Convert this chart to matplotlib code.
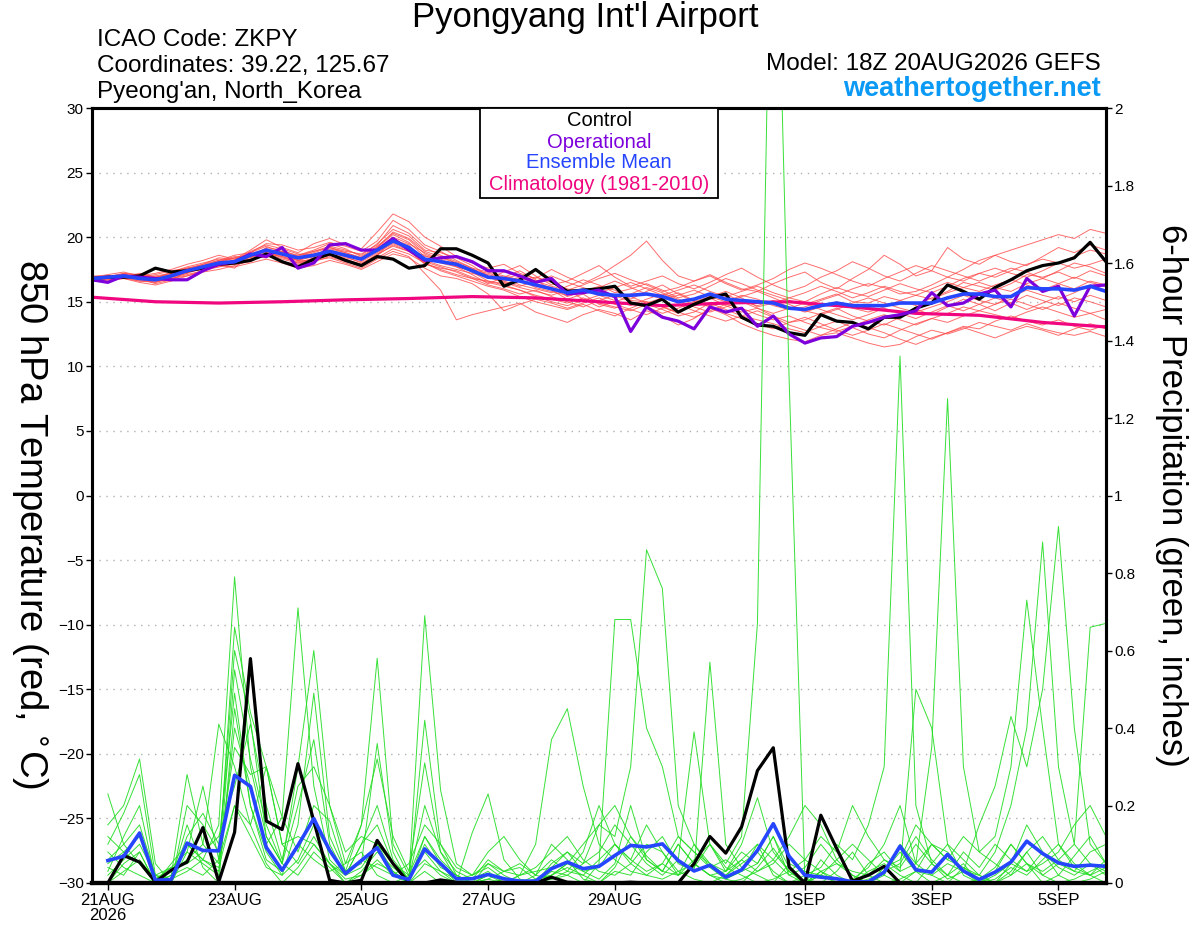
"""
GEFS Meteogramm: 850 hPa Temperatur und 6h-Niederschlag, Pyongyang
"""

import matplotlib
matplotlib.use('Agg')
import matplotlib.pyplot as plt
import numpy as np
import pandas as pd
from matplotlib.patches import Rectangle

plt.rcParams['font.family'] = ['Liberation Sans', 'DejaVu Sans']

# Zeitachse: 6-stündig ab 18Z 20AUG2026 bis +384h
times = pd.date_range('2026-08-20 18:00', periods=65, freq='6h')
precip_times = times[1:]

tick_dates = ['2026-08-21', '2026-08-23', '2026-08-25', '2026-08-27',
              '2026-08-29', '2026-09-01', '2026-09-03', '2026-09-05']
tick_labels = ['21AUG\n2026', '23AUG', '25AUG', '27AUG', '29AUG', '1SEP', '3SEP', '5SEP']

# 850 hPa Temperatur (°C)
control_t = [16.8, 16.9, 16.9, 17.0, 17.6, 17.3, 17.4, 17.6, 17.9, 18.0, 18.2, 18.7, 18.1,
             17.7, 18.3, 18.7, 18.2, 17.8, 18.5, 18.3, 17.6, 17.8, 19.1, 19.1, 18.6, 18.0,
             16.2, 16.7, 17.5, 16.6, 15.8, 15.9, 16.0, 16.2, 14.9, 14.7, 15.2, 14.2, 14.8,
             15.3, 15.6, 13.8, 13.2, 13.1, 12.6, 12.4, 14.0, 13.5, 13.4, 12.9, 13.8, 13.8,
             14.5, 14.9, 16.3, 15.8, 15.2, 16.1, 16.7, 17.4, 17.8, 18.0, 18.4, 19.6, 18.1]
operational_t = [16.7, 16.5, 17.0, 16.9, 16.8, 16.7, 16.7, 17.4, 17.9, 18.1, 18.7, 18.5, 19.2,
                 17.6, 18.0, 19.4, 19.5, 19.0, 19.0, 19.9, 19.0, 18.2, 18.4, 18.5, 18.1, 17.4,
                 17.4, 17.0, 16.5, 16.8, 15.6, 15.7, 15.9, 15.4, 12.7, 14.6, 13.8, 13.5, 12.9,
                 14.6, 14.2, 14.5, 13.1, 13.9, 12.5, 11.8, 12.2, 12.3, 13.1, 13.4, 13.8, 14.0,
                 14.3, 15.7, 14.7, 14.9, 15.6, 15.9, 14.6, 16.8, 15.8, 16.2, 13.9, 16.2, 16.3]
ens_mean_t = [16.8, 16.9, 17.0, 16.8, 16.7, 17.0, 17.4, 17.7, 18.0, 18.1, 18.6, 19.0, 18.7,
              18.4, 18.6, 18.9, 18.6, 18.3, 19.0, 19.7, 19.2, 18.3, 18.1, 17.9, 17.4, 16.9,
              16.8, 16.6, 16.3, 16.0, 15.7, 15.9, 15.6, 15.5, 15.5, 15.6, 15.4, 15.0, 15.2,
              15.6, 15.2, 15.1, 15.0, 14.9, 14.5, 14.4, 14.7, 14.9, 14.7, 14.7, 14.7, 14.9,
              14.9, 14.9, 15.3, 15.6, 15.6, 15.4, 15.4, 16.1, 16.0, 16.0, 15.9, 16.2, 15.8]

# Klimatologie (1981-2010), täglich um 18Z
clim_times = times[::4]
clim_t = [15.35, 15.0, 14.9, 15.0, 15.15, 15.25, 15.4, 15.3, 15.0, 14.7, 14.9, 15.0,
          14.6, 14.1, 13.95, 13.4, 13.05]

member_t = [
    [16.9, 17.1, 17.3, 17.0, 17.2, 17.5, 17.9, 18.2, 18.6, 18.3, 19.0, 19.8, 19.2, 18.8, 19.5, 19.9,
     19.4, 19.1, 20.4, 21.8, 21.2, 20.0, 19.3, 18.5, 18.0, 17.6, 17.9, 17.2, 16.8, 17.5, 16.9, 16.4,
     17.0, 17.8, 18.6, 19.7, 18.2, 17.0, 16.6, 17.1, 16.5, 16.0, 15.8, 16.4, 16.9, 17.3, 16.5, 16.0,
     16.8, 17.5, 18.6, 17.9, 17.0, 17.4, 19.2, 18.3, 17.9, 18.6, 19.0, 19.4, 19.8, 20.2, 19.9, 20.6, 20.3],
    [16.7, 16.6, 16.8, 16.5, 16.3, 16.6, 17.0, 17.3, 17.5, 17.8, 18.2, 18.6, 18.1, 17.9, 18.2, 18.4,
     18.0, 17.6, 18.3, 18.9, 18.5, 17.2, 15.9, 13.6, 14.0, 14.3, 14.6, 14.9, 14.2, 13.8, 13.4, 14.0,
     14.4, 14.1, 13.6, 14.3, 13.9, 13.2, 13.7, 14.5, 14.0, 13.3, 12.8, 12.4, 12.1, 11.9, 12.4, 12.6,
     12.2, 11.8, 11.5, 11.7, 12.3, 12.8, 12.5, 12.9, 13.4, 13.1, 12.8, 13.3, 12.9, 12.6, 12.4, 12.7, 12.3],
    [16.8, 17.0, 16.9, 17.2, 16.9, 17.1, 17.6, 17.5, 18.1, 18.5, 18.4, 19.2, 19.0, 18.5, 18.9, 19.3,
     19.0, 18.6, 19.5, 20.6, 20.1, 19.0, 18.8, 18.4, 17.8, 17.0, 16.6, 16.9, 16.4, 16.1, 15.4, 15.8,
     16.2, 15.9, 15.2, 15.8, 16.3, 15.6, 15.0, 15.4, 15.8, 15.3, 14.6, 14.9, 15.3, 15.0, 15.6, 16.1,
     15.7, 15.4, 15.9, 16.4, 16.0, 15.7, 16.2, 16.8, 17.2, 16.9, 17.4, 17.9, 18.3, 18.0, 18.5, 19.0, 18.7],
    [16.9, 16.8, 17.1, 16.7, 16.5, 16.9, 17.2, 17.8, 17.9, 17.6, 18.7, 18.9, 18.4, 18.1, 18.3, 18.6,
     18.2, 17.9, 18.7, 19.3, 18.9, 18.6, 18.0, 17.7, 17.1, 16.4, 16.9, 17.4, 16.7, 15.9, 15.2, 15.6,
     14.8, 14.5, 15.1, 15.0, 14.6, 14.1, 14.9, 15.3, 14.7, 14.2, 14.5, 13.9, 13.4, 13.6, 14.1, 14.5,
     13.9, 13.5, 13.2, 13.8, 14.4, 14.0, 14.6, 15.2, 14.8, 14.3, 14.9, 15.5, 15.1, 14.7, 15.3, 15.0, 14.6],
    [16.6, 16.9, 17.2, 17.1, 16.8, 17.3, 17.7, 18.0, 18.3, 18.2, 18.9, 19.4, 19.1, 18.7, 18.6, 19.1,
     18.8, 18.4, 19.2, 20.2, 19.6, 18.5, 18.4, 18.0, 17.5, 17.2, 16.9, 16.3, 16.0, 15.7, 16.2, 16.7,
     16.3, 15.7, 16.0, 16.4, 15.9, 15.3, 15.6, 16.2, 16.8, 16.4, 15.9, 15.5, 15.1, 14.8, 15.2, 15.6,
     15.0, 14.9, 15.4, 15.1, 14.7, 15.3, 15.8, 16.5, 16.2, 15.9, 16.4, 17.1, 16.9, 17.3, 16.8, 17.4, 17.0],
    [16.8, 16.7, 16.9, 16.6, 16.6, 16.8, 17.1, 17.4, 17.7, 17.9, 18.1, 18.8, 18.3, 18.0, 18.4, 18.7,
     18.4, 18.1, 18.8, 19.5, 19.0, 17.9, 17.6, 17.4, 16.9, 16.5, 16.2, 15.9, 15.5, 15.2, 14.9, 15.3,
     14.9, 14.6, 14.3, 14.8, 14.4, 13.9, 14.2, 14.9, 14.4, 13.9, 13.6, 13.3, 12.9, 12.6, 13.1, 13.5,
     13.0, 12.5, 12.2, 12.8, 13.3, 13.7, 13.4, 13.9, 14.3, 14.0, 13.7, 14.2, 14.6, 14.2, 13.8, 14.1, 13.6],
    [17.0, 17.0, 17.1, 16.9, 17.0, 17.2, 17.5, 17.9, 18.2, 18.6, 18.8, 19.5, 19.4, 19.0, 19.2, 19.6,
     19.3, 18.9, 19.7, 21.3, 20.6, 19.4, 18.9, 18.2, 17.6, 16.8, 17.3, 17.8, 17.0, 16.3, 16.6, 17.2,
     17.8, 16.9, 16.2, 16.6, 17.0, 16.4, 16.0, 16.5, 17.1, 17.6, 16.9, 16.3, 15.8, 16.2, 16.9, 17.4,
     18.1, 17.6, 17.0, 16.6, 17.2, 17.8, 17.4, 17.0, 16.6, 17.1, 17.6, 17.3, 16.8, 17.4, 18.0, 17.7, 17.2],
    [16.7, 16.8, 17.0, 16.8, 16.4, 16.7, 17.3, 17.6, 18.0, 18.4, 18.5, 18.4, 18.9, 18.3, 18.5, 18.8,
     18.5, 18.0, 18.6, 19.8, 19.4, 18.2, 17.8, 17.5, 17.2, 16.9, 16.5, 16.1, 15.8, 15.5, 15.9, 15.2,
     14.6, 15.0, 15.4, 14.9, 15.3, 15.7, 15.1, 14.7, 14.9, 15.4, 15.8, 15.3, 14.8, 14.3, 14.0, 14.4,
     14.9, 15.3, 14.9, 14.5, 14.2, 14.6, 15.0, 15.5, 15.1, 14.8, 15.4, 15.9, 15.5, 15.2, 15.7, 16.3, 15.9],
    [16.8, 17.0, 16.8, 16.9, 17.1, 17.4, 17.6, 17.9, 18.4, 18.3, 18.6, 19.1, 18.6, 18.6, 18.9, 19.2,
     18.9, 18.7, 19.4, 20.9, 20.3, 19.2, 18.6, 18.1, 17.6, 17.3, 17.0, 16.7, 16.9, 16.5, 16.0, 15.7,
     16.1, 16.6, 16.1, 15.6, 15.2, 15.5, 15.9, 15.4, 15.0, 15.5, 15.2, 14.7, 14.4, 14.6, 15.1, 15.5,
     16.0, 16.4, 16.1, 15.6, 15.8, 16.3, 16.9, 16.6, 17.2, 17.6, 17.2, 16.9, 17.4, 18.0, 17.6, 17.9, 18.3],
    [16.6, 16.7, 16.8, 16.6, 16.5, 16.8, 17.0, 17.4, 17.8, 17.7, 18.0, 18.3, 18.0, 17.6, 17.8, 18.2,
     17.9, 17.5, 18.1, 18.7, 18.4, 17.6, 17.0, 16.8, 16.4, 15.6, 14.3, 14.8, 15.2, 14.9, 14.5, 14.9,
     15.3, 14.8, 14.4, 14.0, 14.5, 14.8, 14.3, 13.9, 13.5, 13.9, 14.3, 13.8, 13.2, 12.8, 12.4, 12.9,
     13.4, 13.0, 12.6, 12.1, 11.7, 12.2, 12.6, 13.1, 12.9, 13.5, 13.9, 13.5, 13.2, 13.6, 13.1, 12.8, 13.2],
    [16.9, 16.9, 17.0, 17.1, 16.9, 17.0, 17.5, 17.7, 18.1, 18.0, 18.8, 19.3, 18.8, 18.2, 18.7, 19.0,
     18.7, 18.2, 19.1, 20.0, 19.5, 18.8, 18.3, 17.8, 17.3, 16.6, 16.4, 16.7, 16.1, 15.8, 15.5, 16.0,
     15.7, 15.3, 15.6, 16.1, 15.7, 15.2, 14.8, 15.2, 15.6, 15.0, 14.7, 15.1, 14.6, 14.2, 14.6, 15.0,
     14.5, 14.2, 14.6, 15.1, 15.5, 15.2, 15.7, 16.1, 16.5, 16.1, 15.8, 16.4, 16.8, 16.4, 16.0, 16.6, 16.3],
    [16.7, 16.8, 17.1, 16.9, 16.7, 16.9, 17.2, 17.6, 17.7, 18.1, 18.3, 18.7, 18.5, 18.2, 18.1, 18.5,
     18.1, 17.8, 18.4, 19.1, 18.7, 18.0, 17.4, 17.0, 16.6, 16.2, 15.9, 15.4, 15.0, 14.7, 14.4, 14.8,
     14.3, 13.9, 14.5, 15.0, 14.6, 14.2, 13.8, 14.3, 14.8, 14.5, 14.0, 13.6, 13.9, 13.4, 13.0, 12.7,
     13.1, 13.6, 14.0, 13.6, 13.2, 13.7, 14.1, 14.6, 14.3, 14.8, 15.2, 14.8, 14.4, 14.9, 14.5, 14.1, 14.4],
    [16.8, 16.9, 17.2, 17.0, 16.8, 17.1, 17.4, 17.8, 18.2, 18.0, 18.5, 19.0, 18.9, 18.6, 19.0, 19.5,
     19.1, 18.5, 19.3, 20.3, 19.8, 18.7, 18.2, 17.7, 17.4, 17.1, 16.8, 17.1, 16.6, 16.2, 15.9, 16.3,
     16.8, 17.2, 16.7, 16.3, 15.8, 16.1, 16.6, 17.0, 16.4, 15.9, 16.3, 16.8, 17.5, 18.0, 17.6, 17.1,
     16.6, 16.2, 16.8, 17.3, 17.8, 17.4, 16.9, 17.5, 18.2, 18.6, 18.1, 17.8, 18.5, 19.2, 18.8, 19.4, 19.0],
    [16.9, 16.8, 16.9, 16.7, 16.6, 16.9, 17.3, 17.5, 17.9, 18.2, 18.4, 18.9, 18.6, 18.2, 18.5, 18.9,
     18.6, 18.3, 18.9, 19.6, 19.1, 18.1, 17.7, 17.3, 16.8, 16.3, 16.0, 15.6, 15.9, 15.4, 15.0, 14.6,
     15.1, 15.5, 15.0, 14.6, 14.1, 14.5, 15.0, 14.6, 14.1, 13.7, 13.3, 12.9, 13.4, 13.8, 13.3, 12.8,
     12.4, 12.8, 13.3, 12.9, 12.5, 12.1, 12.6, 13.0, 12.6, 12.2, 12.7, 13.1, 12.8, 12.4, 12.9, 13.3, 12.9],
    [16.8, 17.0, 17.0, 16.8, 16.9, 17.2, 17.6, 17.8, 18.1, 18.4, 18.7, 19.1, 18.8, 18.4, 18.8, 19.2,
     18.8, 18.4, 19.2, 20.4, 19.9, 18.9, 18.5, 18.0, 17.5, 16.9, 16.6, 16.2, 16.6, 17.0, 16.5, 16.1,
     15.7, 16.1, 16.5, 16.0, 15.5, 15.9, 16.3, 15.8, 15.4, 15.8, 16.2, 15.7, 15.3, 15.7, 16.2, 15.8,
     15.3, 15.7, 16.2, 15.8, 15.5, 16.0, 16.5, 16.1, 15.8, 16.3, 16.7, 16.3, 15.9, 16.4, 16.9, 16.5, 16.2],
    [16.7, 16.9, 16.9, 16.8, 16.7, 17.0, 17.3, 17.6, 18.0, 17.9, 18.5, 18.9, 18.5, 18.0, 18.2, 18.6,
     18.3, 17.9, 18.6, 19.4, 18.9, 18.0, 17.5, 17.1, 16.8, 16.6, 16.3, 15.9, 15.4, 15.0, 14.7, 15.1,
     15.5, 15.1, 14.7, 15.2, 15.6, 15.1, 14.6, 14.2, 14.6, 15.0, 14.5, 14.1, 14.5, 14.9, 14.4, 14.0,
     13.6, 14.0, 14.5, 14.1, 13.7, 14.2, 14.7, 14.3, 14.8, 15.3, 14.9, 14.4, 14.9, 15.4, 15.0, 15.5, 15.1],
]

# 6-stündiger Niederschlag (inches)
control_p = [0.0, 0.071, 0.054, 0.003, 0.033, 0.054, 0.143, 0.003, 0.131, 0.579, 0.16, 0.138,
             0.308, 0.16, 0.007, 0.0, 0.007, 0.11, 0.05, 0.0, 0.0, 0.008, 0.002, 0.0,
             0.0, 0.002, 0.0, 0.0, 0.015, 0.002, 0.0, 0.0, 0.0, 0.002, 0.0, 0.0,
             0.0, 0.05, 0.12, 0.077, 0.145, 0.29, 0.349, 0.041, 0.0, 0.175, 0.089, 0.005,
             0.02, 0.043, 0.0, 0.0, 0.0, 0.0, 0.0, 0.0, 0.0, 0.0, 0.0, 0.0,
             0.0, 0.0, 0.0, 0.0]
ens_mean_p = [0.058, 0.069, 0.129, 0.007, 0.009, 0.103, 0.084, 0.083, 0.278, 0.249, 0.092, 0.033,
              0.097, 0.166, 0.084, 0.024, 0.058, 0.091, 0.02, 0.009, 0.088, 0.05, 0.011, 0.011,
              0.022, 0.011, 0.005, 0.005, 0.037, 0.054, 0.037, 0.043, 0.071, 0.097, 0.093, 0.101,
              0.058, 0.031, 0.046, 0.015, 0.034, 0.084, 0.153, 0.069, 0.02, 0.015, 0.011, 0.003,
              0.003, 0.028, 0.095, 0.034, 0.028, 0.074, 0.031, 0.009, 0.028, 0.054, 0.108, 0.076,
              0.052, 0.043, 0.046, 0.043]

member_p = [
    [0.05, 0.08, 0.12, 0.01, 0.0, 0.10, 0.06, 0.15, 0.79, 0.30, 0.12, 0.05, 0.20, 0.37, 0.10, 0.02,
     0.04, 0.10, 0.03, 0.0, 0.12, 0.05, 0.0, 0.0, 0.02, 0.0, 0.0, 0.0, 0.05, 0.08, 0.03, 0.04,
     0.10, 0.06, 0.15, 0.08, 0.02, 0.04, 0.10, 0.05, 0.12, 0.67, 2.90, 1.30, 0.0, 0.03, 0.01, 0.0,
     0.0, 0.02, 0.10, 0.05, 0.02, 0.0, 0.04, 0.01, 0.0, 0.03, 0.08, 0.02, 0.05, 0.03, 0.02, 0.06],
    [0.23, 0.10, 0.05, 0.0, 0.02, 0.28, 0.10, 0.05, 0.66, 0.44, 0.30, 0.17, 0.71, 0.25, 0.06, 0.02,
     0.10, 0.15, 0.05, 0.01, 0.69, 0.24, 0.05, 0.02, 0.04, 0.01, 0.0, 0.02, 0.10, 0.06, 0.01, 0.0,
     0.04, 0.12, 0.06, 0.03, 0.10, 0.05, 0.02, 0.01, 0.0, 0.04, 0.09, 0.03, 0.0, 0.02, 0.0, 0.0,
     0.01, 0.03, 0.05, 0.12, 0.06, 0.02, 0.0, 0.01, 0.04, 0.10, 0.05, 0.02, 0.0, 0.01, 0.03, 0.05],
    [0.10, 0.18, 0.28, 0.02, 0.0, 0.08, 0.25, 0.06, 0.60, 0.42, 0.12, 0.05, 0.30, 0.60, 0.20, 0.05,
     0.15, 0.58, 0.10, 0.02, 0.08, 0.03, 0.0, 0.13, 0.23, 0.06, 0.01, 0.0, 0.03, 0.02, 0.0, 0.05,
     0.68, 0.68, 0.40, 0.30, 0.12, 0.08, 0.05, 0.02, 0.06, 0.10, 0.02, 0.0, 0.01, 0.0, 0.03, 0.08,
     0.02, 0.0, 0.01, 0.03, 0.0, 0.02, 0.05, 0.0, 0.01, 0.04, 0.02, 0.06, 0.10, 0.04, 0.02, 0.0],
    [0.0, 0.05, 0.08, 0.0, 0.01, 0.12, 0.18, 0.10, 0.49, 0.20, 0.08, 0.02, 0.15, 0.49, 0.12, 0.03,
     0.05, 0.36, 0.08, 0.0, 0.42, 0.10, 0.02, 0.0, 0.05, 0.02, 0.0, 0.01, 0.02, 0.05, 0.10, 0.15,
     0.12, 0.30, 0.86, 0.76, 0.20, 0.10, 0.04, 0.01, 0.03, 0.05, 0.12, 0.04, 0.0, 0.06, 0.02, 0.0,
     0.05, 0.08, 0.03, 0.50, 0.40, 0.10, 0.02, 0.0, 0.03, 0.10, 0.05, 0.0, 0.02, 0.07, 0.12, 0.05],
    [0.03, 0.12, 0.20, 0.01, 0.03, 0.06, 0.10, 0.41, 0.30, 0.15, 0.05, 0.0, 0.04, 0.10, 0.05, 0.01,
     0.02, 0.05, 0.03, 0.0, 0.03, 0.0, 0.0, 0.01, 0.03, 0.0, 0.02, 0.04, 0.08, 0.12, 0.06, 0.03,
     0.02, 0.05, 0.10, 0.08, 0.03, 0.01, 0.0, 0.02, 0.05, 0.08, 0.03, 0.0, 0.02, 0.04, 0.10, 0.06,
     0.15, 0.30, 1.36, 0.20, 0.05, 0.01, 0.03, 0.02, 0.0, 0.05, 0.03, 0.08, 0.02, 0.0, 0.01, 0.03],
    [0.08, 0.04, 0.02, 0.0, 0.05, 0.10, 0.06, 0.03, 0.40, 0.25, 0.10, 0.17, 0.08, 0.20, 0.16, 0.03,
     0.15, 0.32, 0.12, 0.03, 0.31, 0.08, 0.01, 0.0, 0.02, 0.01, 0.0, 0.0, 0.01, 0.02, 0.05, 0.08,
     0.15, 0.10, 0.05, 0.02, 0.06, 0.39, 0.10, 0.04, 0.02, 0.0, 0.01, 0.03, 0.06, 0.03, 0.0, 0.01,
     0.04, 0.10, 0.20, 0.05, 0.35, 1.25, 0.30, 0.08, 0.12, 0.30, 0.73, 0.40, 0.10, 0.05, 0.02, 0.04],
    [0.12, 0.08, 0.05, 0.0, 0.02, 0.04, 0.02, 0.06, 0.20, 0.15, 0.30, 0.10, 0.05, 0.12, 0.05, 0.0,
     0.03, 0.08, 0.04, 0.01, 0.10, 0.04, 0.02, 0.0, 0.01, 0.03, 0.05, 0.02, 0.06, 0.03, 0.02, 0.0,
     0.03, 0.02, 0.08, 0.12, 0.05, 0.03, 0.57, 0.10, 0.04, 0.02, 0.0, 0.05, 0.03, 0.02, 0.06, 0.10,
     0.06, 0.02, 0.0, 0.03, 0.10, 0.06, 0.04, 0.02, 0.08, 0.20, 0.40, 0.88, 0.30, 0.10, 0.66, 0.67],
    [0.02, 0.06, 0.10, 0.02, 0.01, 0.15, 0.04, 0.0, 0.45, 0.20, 0.06, 0.03, 0.10, 0.06, 0.03, 0.05,
     0.08, 0.02, 0.0, 0.02, 0.06, 0.02, 0.0, 0.0, 0.0, 0.01, 0.0, 0.0, 0.02, 0.05, 0.03, 0.01,
     0.05, 0.20, 0.06, 0.03, 0.10, 0.05, 0.02, 0.03, 0.08, 0.05, 0.12, 0.02, 0.0, 0.03, 0.05, 0.02,
     0.0, 0.04, 0.06, 0.15, 0.10, 0.08, 0.03, 0.15, 0.25, 0.43, 0.30, 0.50, 0.92, 0.40, 0.10, 0.05],
    [0.0, 0.03, 0.06, 0.01, 0.04, 0.08, 0.05, 0.02, 0.55, 0.32, 0.15, 0.05, 0.02, 0.08, 0.04, 0.0,
     0.02, 0.06, 0.02, 0.0, 0.05, 0.03, 0.01, 0.02, 0.05, 0.03, 0.02, 0.10, 0.37, 0.45, 0.25, 0.10,
     0.06, 0.03, 0.02, 0.05, 0.02, 0.10, 0.05, 0.03, 0.10, 0.22, 0.08, 0.03, 0.0, 0.02, 0.01, 0.0,
     0.03, 0.05, 0.02, 0.0, 0.05, 0.10, 0.06, 0.02, 0.0, 0.02, 0.05, 0.03, 0.06, 0.10, 0.05, 0.02],
    [0.15, 0.20, 0.32, 0.05, 0.0, 0.20, 0.15, 0.08, 0.35, 0.28, 0.30, 0.10, 0.12, 0.10, 0.05, 0.02,
     0.10, 0.20, 0.06, 0.01, 0.20, 0.08, 0.03, 0.01, 0.06, 0.03, 0.04, 0.01, 0.02, 0.04, 0.02, 0.06,
     0.10, 0.06, 0.03, 0.05, 0.12, 0.08, 0.04, 0.06, 0.03, 0.10, 0.06, 0.02, 0.04, 0.10, 0.05, 0.03,
     0.02, 0.06, 0.04, 0.10, 0.05, 0.02, 0.08, 0.04, 0.10, 0.06, 0.03, 0.05, 0.08, 0.15, 0.20, 0.12],
    [0.06, 0.10, 0.15, 0.02, 0.04, 0.05, 0.08, 0.12, 0.25, 0.41, 0.20, 0.06, 0.25, 0.30, 0.20, 0.08,
     0.12, 0.10, 0.05, 0.02, 0.12, 0.06, 0.02, 0.0, 0.01, 0.0, 0.02, 0.03, 0.04, 0.08, 0.05, 0.15,
     0.20, 0.12, 0.07, 0.03, 0.02, 0.06, 0.10, 0.03, 0.06, 0.03, 0.05, 0.10, 0.06, 0.12, 0.08, 0.20,
     0.12, 0.06, 0.03, 0.05, 0.10, 0.06, 0.12, 0.08, 0.05, 0.02, 0.08, 0.12, 0.06, 0.03, 0.08, 0.10],
    [0.04, 0.02, 0.08, 0.0, 0.01, 0.03, 0.06, 0.04, 0.20, 0.12, 0.04, 0.02, 0.06, 0.15, 0.08, 0.03,
     0.06, 0.04, 0.02, 0.05, 0.15, 0.10, 0.04, 0.02, 0.08, 0.12, 0.06, 0.02, 0.01, 0.03, 0.08, 0.20,
     0.10, 0.05, 0.02, 0.01, 0.03, 0.05, 0.02, 0.0, 0.01, 0.03, 0.06, 0.12, 0.20, 0.15, 0.06, 0.02,
     0.0, 0.03, 0.08, 0.03, 0.02, 0.05, 0.03, 0.0, 0.02, 0.05, 0.15, 0.08, 0.04, 0.02, 0.05, 0.03],
]


def main():
    fig = plt.figure(figsize=(12, 9.27), dpi=100)
    ax = fig.add_axes([92 / 1200, 1 - 883 / 927, (1106 - 92) / 1200, (883 - 108) / 927])
    ax2 = ax.twinx()

    # Temperatur
    for m in member_t:
        ax.plot(times, m, color='#ff4848', lw=0.7, alpha=0.8)
    ax.plot(clim_times, clim_t, color='#f0067f', lw=2.3)
    ax.plot(times, control_t, color='black', lw=2.3)
    ax.plot(times, operational_t, color='#7d00dc', lw=2.3)
    ax.plot(times, ens_mean_t, color='#2645ff', lw=2.6)

    for yv in range(-25, 30, 5):
        ax.axhline(yv, color='#b0b0b0', lw=1.0, ls=(0, (1, 4)), zorder=0)

    ax.set_ylim(-30, 30)
    ax.set_yticks(range(-30, 31, 5))
    ax.set_xlim(times[0], times[-1])
    ax.set_xticks(pd.to_datetime(tick_dates))
    ax.set_xticklabels(tick_labels, fontsize=12, linespacing=1.05)
    ax.tick_params(axis='y', labelsize=11, length=4, width=1, pad=2)
    ax.tick_params(axis='x', length=5, width=1, pad=2)
    ax.set_ylabel('850 hPa Temperature (red, $^{\\circ}$C)', fontsize=27.5, rotation=-90,
                  ha='center', va='center')
    ax.yaxis.set_label_coords(-0.061, 0.463)

    # Niederschlag
    for m in member_p:
        ax2.plot(precip_times, m, color='#22dd22', lw=0.7, alpha=0.9)
    ax2.plot(precip_times, control_p, color='black', lw=2.3)
    ax2.plot(precip_times, ens_mean_p, color='#2645ff', lw=2.6)
    ax2.set_ylim(0, 2)
    ax2.set_yticks(np.arange(0, 2.01, 0.2))
    ax2.set_yticklabels(['%g' % round(v, 1) for v in np.arange(0, 2.01, 0.2)])
    ax2.tick_params(axis='y', labelsize=11, length=4, width=1, pad=2)
    ax2.set_ylabel('6-hour Precipitation (green, inches)', fontsize=25, rotation=-90,
                   ha='center', va='center')
    ax2.yaxis.set_label_coords(1.065, 0.5)

    for a in (ax, ax2):
        a.spines['left'].set_linewidth(2.2)
        a.spines['right'].set_linewidth(2.2)
        a.spines['top'].set_linewidth(2.2)
        a.spines['bottom'].set_linewidth(3.0)

    # Legende
    x0, x1 = 480 / 1200, 718 / 1200
    y0, y1 = 1 - 198 / 927, 1 - 108 / 927
    fig.patches.append(Rectangle((x0, y0), x1 - x0, y1 - y0, transform=fig.transFigure,
                                 facecolor='white', edgecolor='black', lw=1.3, zorder=5))
    xc = 599 / 1200
    fs_leg = 14.5
    fig.text(xc, 1 - 121 / 927, 'Control', color='black', fontsize=fs_leg, ha='center', va='center', zorder=6)
    fig.text(xc, 1 - 142 / 927, 'Operational', color='#7d00dc', fontsize=fs_leg, ha='center', va='center', zorder=6)
    fig.text(xc, 1 - 163 / 927, 'Ensemble Mean', color='#2645ff', fontsize=fs_leg, ha='center', va='center', zorder=6)
    fig.text(xc, 1 - 185 / 927, 'Climatology (1981-2010)', color='#f0067f', fontsize=fs_leg,
             ha='center', va='center', zorder=6)

    # Kopfzeilen
    fig.text(585 / 1200, 1 - 18 / 927, "Pyongyang Int'l Airport", fontsize=25, ha='center', va='center')
    fig.text(97 / 1200, 1 - 40 / 927, 'ICAO Code: ZKPY', fontsize=17.5, ha='left', va='center')
    fig.text(97 / 1200, 1 - 66 / 927, 'Coordinates: 39.22, 125.67', fontsize=17.5, ha='left', va='center')
    fig.text(97 / 1200, 1 - 92 / 927, "Pyeong'an, North_Korea", fontsize=17.5, ha='left', va='center')
    fig.text(1101 / 1200, 1 - 64 / 927, 'Model: 18Z 20AUG2026 GEFS', fontsize=17.5, ha='right', va='center')
    fig.text(1101 / 1200, 1 - 89 / 927, 'weathertogether.net', fontsize=19.5, fontweight='bold',
             color='#0a9af5', ha='right', va='center')

    fig.savefig('out.png', dpi=100)


if __name__ == '__main__':
    main()
